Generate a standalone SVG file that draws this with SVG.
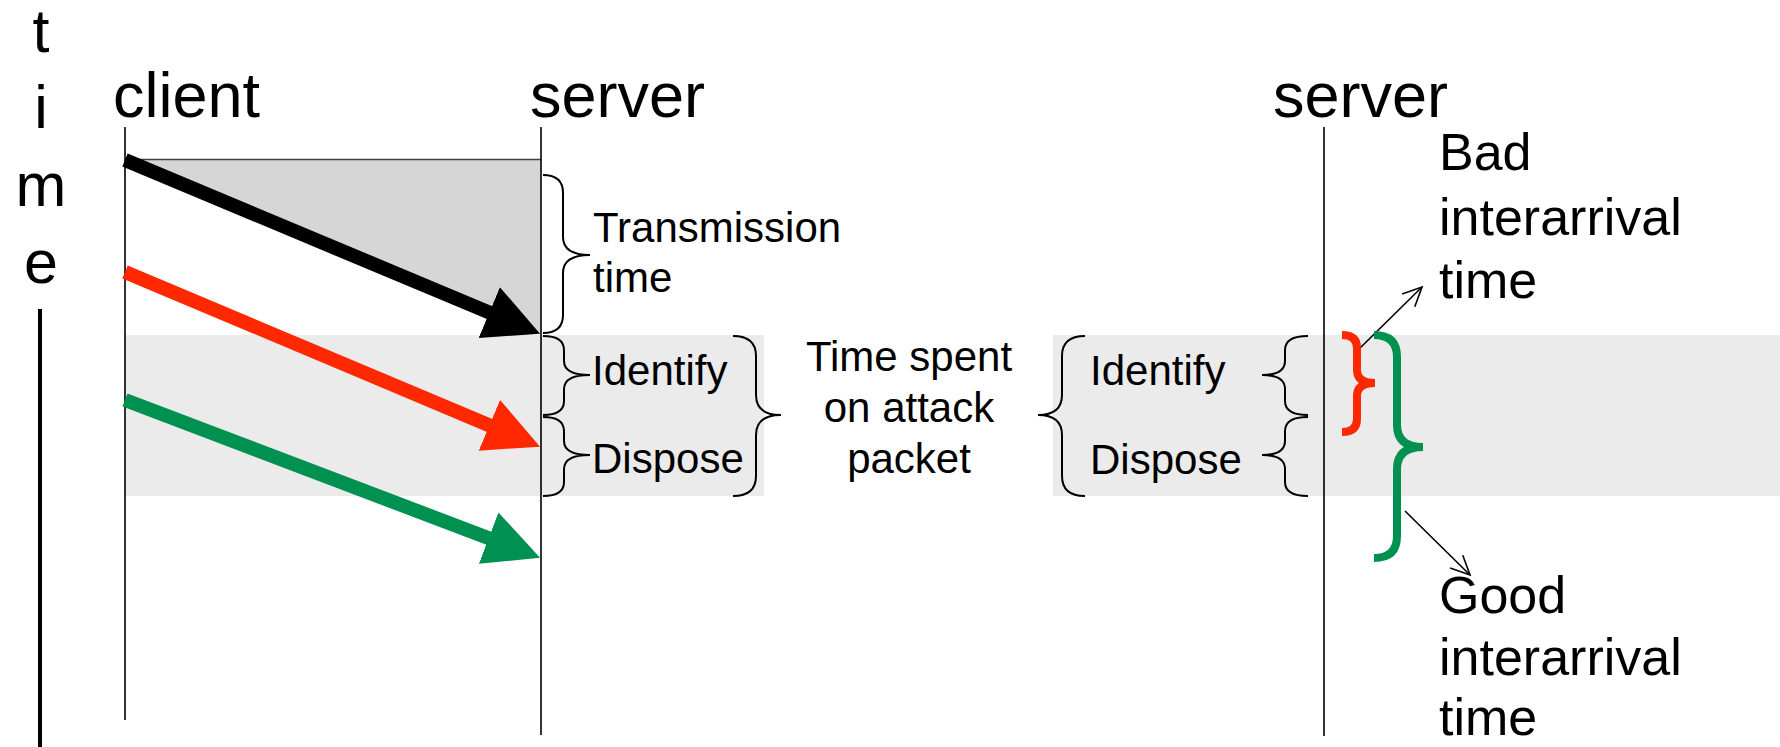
<svg xmlns="http://www.w3.org/2000/svg" width="1780" height="747" viewBox="0 0 1780 747">
<style>
text{font-family:"Liberation Sans",Arial,sans-serif;fill:#000}
.lbl{font-size:63px}
.body{font-size:42px}
.note{font-size:52px}
.tl{font-size:61px;text-anchor:middle}
.mid{text-anchor:middle}
.life{stroke:#000;stroke-width:1.6;fill:none}
.brace{stroke:#000;stroke-width:2;fill:none}
.thick{stroke-width:14;fill:none;stroke-linecap:butt}
.thin{stroke:#000;stroke-width:1.6;fill:none}
</style>
<defs>
<marker id="hk" markerUnits="userSpaceOnUse" orient="auto" markerWidth="60" markerHeight="60" viewBox="0 -30 60 60" refX="1" refY="0"><path d="M0,-27.5 L55,0 L0,27.5 Z" fill="#000"/></marker>
<marker id="hr" markerUnits="userSpaceOnUse" orient="auto" markerWidth="60" markerHeight="60" viewBox="0 -30 60 60" refX="1" refY="0"><path d="M0,-27.5 L55,0 L0,27.5 Z" fill="#ff2800"/></marker>
<marker id="hg" markerUnits="userSpaceOnUse" orient="auto" markerWidth="60" markerHeight="60" viewBox="0 -30 60 60" refX="1" refY="0"><path d="M0,-27.5 L55,0 L0,27.5 Z" fill="#009150"/></marker>
<marker id="open" markerUnits="userSpaceOnUse" orient="auto" markerWidth="24" markerHeight="24" viewBox="-2 -12 24 24" refX="19" refY="0"><path d="M0,-9 L19,0 L0,9" fill="none" stroke="#000" stroke-width="1.6"/></marker>
</defs>
<g id="background">
<rect x="125" y="335" width="639" height="161" fill="#ebebeb"/>
<rect x="1053" y="335" width="727" height="161" fill="#ebebeb"/>
<polygon points="125,159 541,159 541,334" fill="#d6d6d6"/>
<line x1="125" y1="159.5" x2="541" y2="159.5" stroke="#404040" stroke-width="1.5"/>
</g>
<g id="time-axis">
<text class="tl" x="41" y="52">t</text>
<text class="tl" x="41" y="128">i</text>
<text class="tl" x="41" y="206">m</text>
<text class="tl" x="41" y="283">e</text>
<line x1="40" y1="309" x2="40" y2="747" stroke="#000" stroke-width="4"/>
</g>
<g id="client">
<text class="lbl" x="113" y="117">client</text>
<line class="life" x1="125" y1="127" x2="125" y2="720"/>
</g>
<g id="server1">
<text class="lbl" x="530" y="117">server</text>
<line class="life" x1="541" y1="127" x2="541" y2="735"/>
</g>
<g id="server2">
<text class="lbl" x="1273" y="117">server</text>
<line class="life" x1="1324" y1="127" x2="1324" y2="736"/>
</g>
<g id="connectors">
<line class="thick" stroke="#000" x1="125" y1="160" x2="490.2" y2="312.9" marker-end="url(#hk)"/>
<line class="thick" stroke="#ff2800" x1="125" y1="272" x2="490.3" y2="425.7" marker-end="url(#hr)"/>
<line class="thick" stroke="#009150" x1="125" y1="400" x2="489.6" y2="538.5" marker-end="url(#hg)"/>
<line class="thin" x1="1357" y1="351" x2="1422" y2="287" marker-end="url(#open)"/>
<line class="thin" x1="1405" y1="511" x2="1470" y2="575" marker-end="url(#open)"/>
</g>
<g id="transmission">
<path class="brace" d="M543,175 Q563,175 563,193 L563,237 Q563,255 590,255 Q563,255 563,273 L563,315 Q563,333 543,333"/>
<text class="body" x="593" y="242">Transmission</text>
<text class="body" x="593" y="292">time</text>
</g>
<g id="identify-left">
<path class="brace" d="M543,336 Q564,336 564,350 L564,361 Q564,375 590,375 Q564,375 564,389 L564,401 Q564,415 543,415"/>
<text class="body" x="592" y="385">Identify</text>
</g>
<g id="dispose-left">
<path class="brace" d="M543,417 Q564,417 564,431 L564,441 Q564,455 590,455 Q564,455 564,469 L564,482 Q564,496 543,496"/>
<text class="body" x="592" y="473">Dispose</text>
</g>
<g id="time-spent">
<path class="brace" d="M733,336 Q756,336 756,356 L756,395 Q756,415 781,415 Q756,415 756,435 L756,476 Q756,496 733,496"/>
<path class="brace" d="M1085,336 Q1062,336 1062,356 L1062,395 Q1062,415 1038,415 Q1062,415 1062,435 L1062,476 Q1062,496 1085,496"/>
<text class="body mid" x="909" y="371">Time spent</text>
<text class="body mid" x="909" y="422">on attack</text>
<text class="body mid" x="909" y="473">packet</text>
</g>
<g id="identify-right">
<path class="brace" d="M1308,336 Q1285,336 1285,350 L1285,361 Q1285,375 1262,375 Q1285,375 1285,389 L1285,401 Q1285,415 1308,415"/>
<text class="body" x="1090" y="385">Identify</text>
</g>
<g id="dispose-right">
<path class="brace" d="M1308,417 Q1285,417 1285,431 L1285,441 Q1285,455 1262,455 Q1285,455 1285,469 L1285,482 Q1285,496 1308,496"/>
<text class="body" x="1090" y="474">Dispose</text>
</g>
<g id="bad-interarrival">
<path d="M1342,335 Q1357,335 1357,348 L1357,370 Q1357,383 1375,383 Q1357,383 1357,396 L1357,419 Q1357,432 1342,432" fill="none" stroke="#ff2800" stroke-width="8"/>
<text class="note" x="1439" y="170">Bad</text>
<text class="note" x="1439" y="235">interarrival</text>
<text class="note" x="1439" y="298">time</text>
</g>
<g id="good-interarrival">
<path d="M1374,335 Q1397,335 1397,357 L1397,425 Q1397,447 1423,447 Q1397,447 1397,469 L1397,536 Q1397,558 1374,558" fill="none" stroke="#009150" stroke-width="8"/>
<text class="note" x="1439" y="613">Good</text>
<text class="note" x="1439" y="675">interarrival</text>
<text class="note" x="1439" y="735">time</text>
</g>
</svg>
